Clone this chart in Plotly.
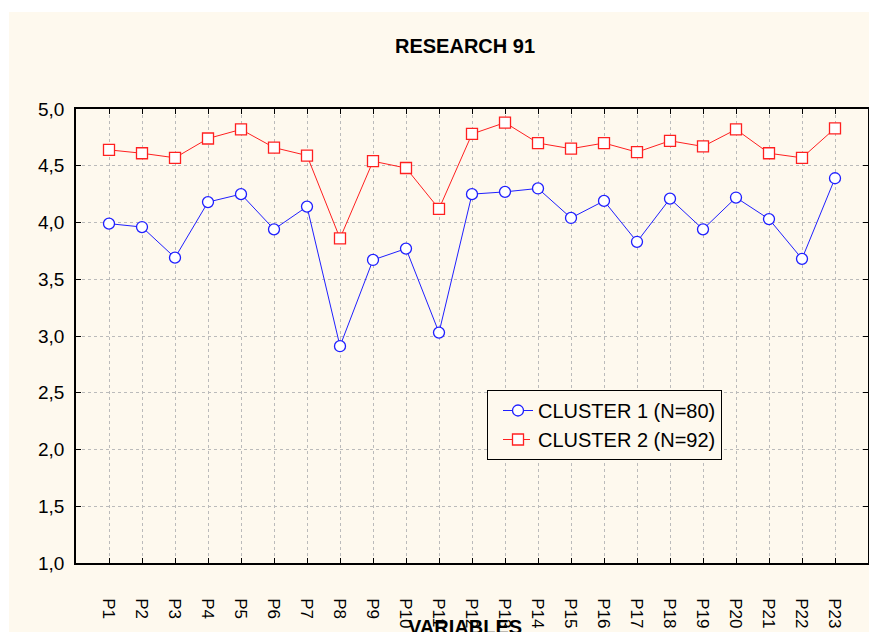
import plotly.graph_objects as go

categories = [f"P{i}" for i in range(1, 24)]
positions = list(range(1, 24))
cluster1 = [3.99, 3.96, 3.69, 4.18, 4.25, 3.94, 4.14, 2.91, 3.67, 3.77, 3.03, 4.25,
            4.27, 4.30, 4.04, 4.19, 3.83, 4.21, 3.94, 4.22, 4.03, 3.68, 4.39]
cluster2 = [4.64, 4.61, 4.57, 4.74, 4.82, 4.66, 4.59, 3.86, 4.54, 4.48, 4.12, 4.78,
            4.88, 4.70, 4.65, 4.70, 4.62, 4.72, 4.67, 4.82, 4.61, 4.57, 4.83]
y_ticks = [1.0, 1.5, 2.0, 2.5, 3.0, 3.5, 4.0, 4.5, 5.0]

CREAM = "#FEF9EE"
FONT = "Liberation Sans, Arial, sans-serif"

fig = go.Figure()
fig.add_trace(go.Scatter(
    x=positions, y=cluster1, mode="lines+markers", name="CLUSTER 1 (N=80)",
    line=dict(color="#1F1FFF", width=1),
    marker=dict(symbol="circle", size=11, color="white", line=dict(color="#1F1FFF", width=1.3)),
))
fig.add_trace(go.Scatter(
    x=positions, y=cluster2, mode="lines+markers", name="CLUSTER 2 (N=92)",
    line=dict(color="#FF2020", width=1), showlegend=False,
    marker=dict(symbol="square", size=11, color="white", line=dict(color="#FF2020", width=1.3)),
))
# legend proxy (dashed as in reference legend)
fig.add_trace(go.Scatter(
    x=[None], y=[None], mode="lines+markers", name="CLUSTER 2 (N=92)",
    line=dict(color="#FF2020", width=1, dash="dash"),
    marker=dict(symbol="square", size=11, color="white", line=dict(color="#FF2020", width=1.3)),
))

fig.add_shape(type="rect", xref="paper", yref="paper",
              x0=-0.0846, x1=1.05, y0=-0.3, y1=1.2137,
              fillcolor=CREAM, line_width=0, layer="below")

fig.add_annotation(text="<b>RESEARCH 91</b>", xref="paper", yref="paper",
                   x=(465 - 76) / 792, y=(563 - 46) / 454, xanchor="center", yanchor="middle",
                   showarrow=False, font=dict(family=FONT, size=20, color="black"))
fig.add_annotation(text="<b>VARIABLES</b>", xref="paper", yref="paper",
                   x=(465 - 76) / 792, y=(563 - 614) / 454, xanchor="center", yanchor="top",
                   showarrow=False, font=dict(family=FONT, size=20, color="black"))

fig.update_layout(
    width=869, height=632,
    margin=dict(l=76, r=1, t=109, b=69),
    paper_bgcolor="white", plot_bgcolor="white",
    separators=",.",
    font=dict(family=FONT, size=16, color="black"),
    legend=dict(x=(487 - 76) / 792, y=(563 - 390) / 454, xanchor="left", yanchor="top",
                bgcolor=CREAM, bordercolor="black", borderwidth=1,
                font=dict(family=FONT, size=20, color="black"),
                indentation=10, tracegroupgap=0),
    showlegend=True,
)
fig.update_xaxes(
    range=[0, 24], tickvals=positions, ticktext=categories, tickangle=90,
    ticks="inside", ticklen=5, tickcolor="black",
    showline=True, linecolor="black", linewidth=1.5, mirror="ticks",
    showgrid=True, gridcolor="#BBBBBB", griddash="dot", gridwidth=1,
    zeroline=False, ticklabelstandoff=30, automargin=False,
    tickfont=dict(family=FONT, size=17, color="black"),
)
fig.update_yaxes(
    range=[1, 5], tickvals=y_ticks, tickformat=".1f",
    ticks="inside", ticklen=5, tickcolor="black",
    showline=True, linecolor="black", linewidth=1.5, mirror="ticks",
    showgrid=True, gridcolor="#BBBBBB", griddash="dot", gridwidth=1,
    zeroline=False, ticklabelstandoff=6, automargin=False,
    tickfont=dict(family=FONT, size=19, color="black"),
)

fig.write_html(
    "out.html",
    config={"displayModeBar": False},
    post_script="document.body.style.margin='0';document.body.style.overflow='hidden';",
)
